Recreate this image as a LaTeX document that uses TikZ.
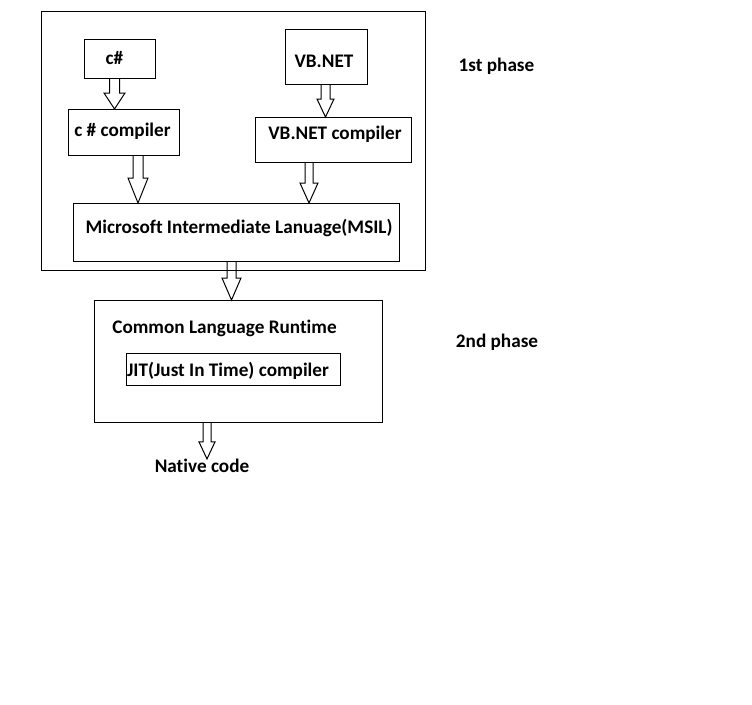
\documentclass[tikz,border=0pt]{standalone}
\usepackage{fontspec}
\setmainfont{Carlito}[Ligatures=NoCommon]
\usetikzlibrary{positioning,calc}

\tikzset{
  box/.style 2 args={draw, line width=0.75pt, inner sep=0pt, outer sep=0pt,
    minimum width=#1*0.75pt, minimum height=#2*0.75pt},
  txt/.style={font=\bfseries\fontsize{14.4}{17}\selectfont, inner sep=0pt},
  hollow/.style={draw, line width=0.75pt, line join=miter}
}

% hollow block arrow: x, start, tip, shaft half width, head half width, head length
\newcommand{\blockarrow}[6]{%
  \draw[hollow] (#1-#4,0 |- #2) -- ($(#1-#4,0 |- #3)+(0,-#6)$)
    -- ($(#1-#5,0 |- #3)+(0,-#6)$) -- (#1,0 |- #3)
    -- ($(#1+#5,0 |- #3)+(0,-#6)$) -- ($(#1+#4,0 |- #3)+(0,-#6)$)
    -- (#1+#4,0 |- #2);}

\begin{document}
\begin{tikzpicture}[x=0.75pt, y=-0.75pt]
  \useasboundingbox (0,0) rectangle (752,704);

  % first phase
  \node[box={384}{259}] (phase1) at (233,140.5) {};
  \node[box={71}{39}] (csharp) at (119.5,58.5) {};
  \node[box={111}{46}] (cscomp) at (123.5,132) {};
  \node[box={82}{55}] (vbnet) at (326,56.5) {};
  \node[box={156}{45}] (vbcomp) at (333,139.5) {};
  \node[box={326}{58}] (msil) at (236,232) {};

  \node[txt] (csharptext) at (114.5,58) {c\#};
  \node[txt] (cscomptext) at (122.5,131) {c \# compiler};
  \node[txt] (vbnettext) at (324,61) {VB.NET};
  \node[txt] (vbcomptext) at (335,134) {VB.NET compiler};
  \node[txt] (msiltext) at (239,228) {Microsoft Intermediate Lanuage(MSIL)};

  % second phase
  \node[box={288}{122}] (clr) at (238,361) {};
  \node[box={214}{32}] (jit) at (233,369) {};
  \node[txt] (clrtext) at (224.5,328) {Common Language Runtime};
  \node[txt] (jittext) at (228,371) {JIT(Just In Time) compiler};
  \node[txt] (native) at (202,466) {Native code};

  \node[txt] (phase1text) at (496.5,66) {1st phase};
  \node[txt] (phase2text) at (497,342) {2nd phase};

  % arrows
  \blockarrow{114.5}{csharp.south}{cscomp.north}{5}{10.5}{16}
  \blockarrow{325.5}{vbnet.south}{vbcomp.north}{4.5}{8.5}{18}
  \blockarrow{138}{cscomp.south}{msil.north}{5}{10}{25}
  \blockarrow{309}{vbcomp.south}{msil.north}{4}{9}{20}
  \blockarrow{231.5}{msil.south}{clr.north}{4.5}{9.5}{22}
  \blockarrow{207}{clr.south}{native.north}{4}{8}{17}
\end{tikzpicture}
\end{document}
